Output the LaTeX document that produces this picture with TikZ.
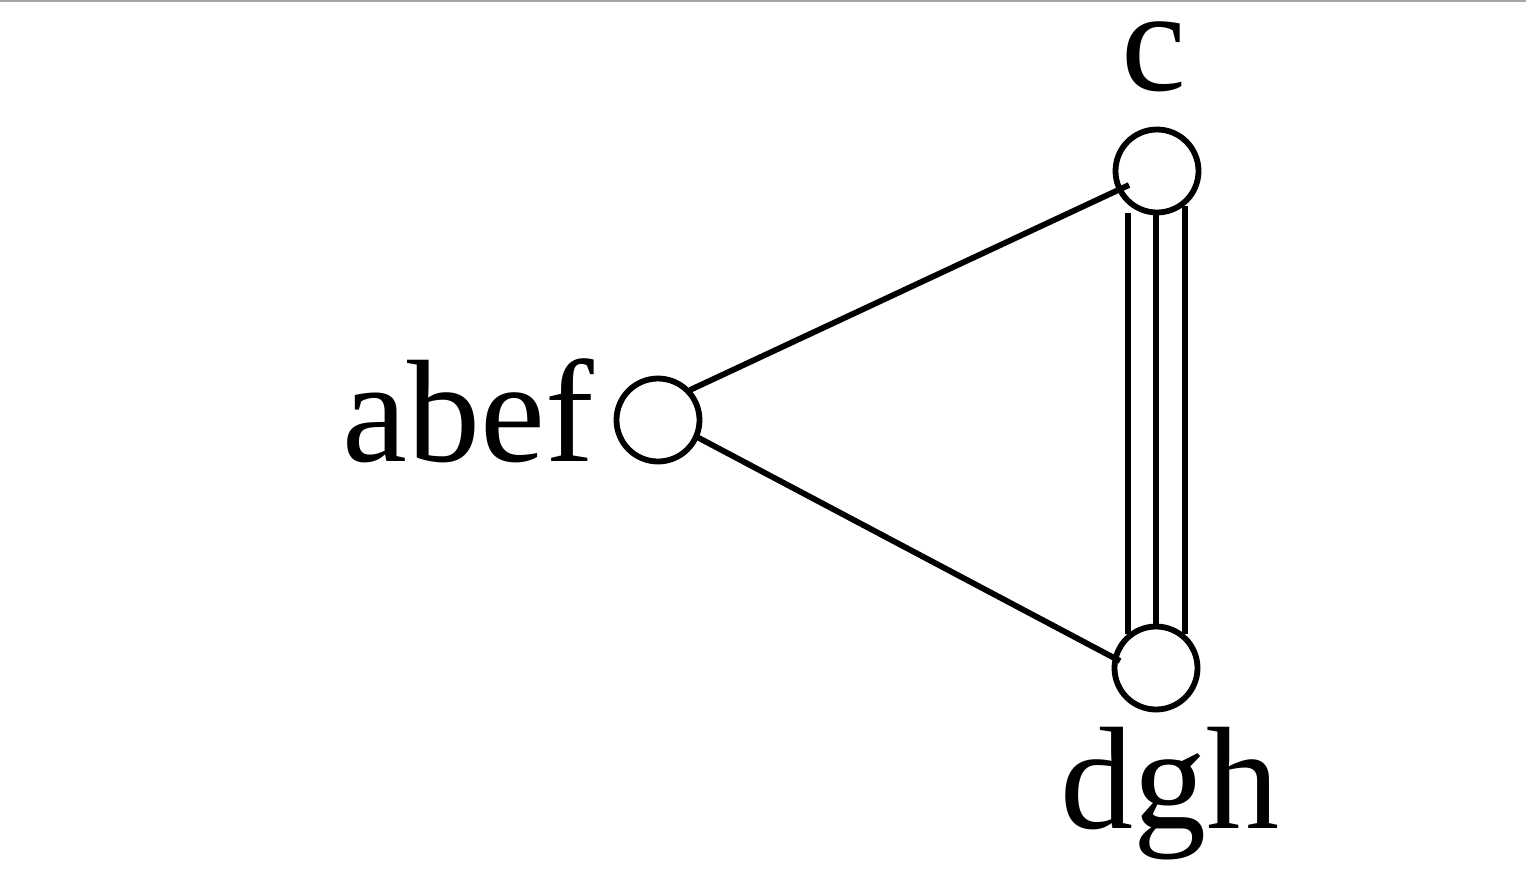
\documentclass[tikz,border=0pt]{standalone}
\usepackage{fontspec}
\setmainfont{Liberation Serif}
\begin{document}
\begin{tikzpicture}[x=0.5pt,y=-0.5pt,
  vtx/.style={circle,draw,line width=2.9pt,minimum size=41.5pt,inner sep=0pt},
  edge/.style={line width=2.9pt},
  lbl/.style={font=\fontsize{73}{80}\selectfont,inner sep=0pt,anchor=base}]
\useasboundingbox (0,0) rectangle (1526,874);
\fill[white] (0,0) rectangle (1526,874);
\draw[gray!70,line width=1pt] (0,0.5) -- (1526,0.5);
\coordinate (e1a) at (690,390);
\coordinate (e1b) at (1129,185);
\coordinate (e2a) at (697,437);
\coordinate (e2b) at (1120,661);
\coordinate (l1a) at (1128,213);
\coordinate (l1b) at (1128,634);
\coordinate (l2a) at (1156,212);
\coordinate (l2b) at (1156,626);
\coordinate (l3a) at (1185,206);
\coordinate (l3b) at (1185,634);
\draw[edge] (e1a) -- (e1b);
\draw[edge] (e2a) -- (e2b);
\draw[edge] (l1a) -- (l1b);
\draw[edge] (l2a) -- (l2b);
\draw[edge] (l3a) -- (l3b);
\node[vtx] (abef) at (658,420) {};
\node[vtx] (c) at (1157,171) {};
\node[vtx] (dgh) at (1156,668) {};
\node[lbl] (tabef) at (468,461) {abef};
\node[lbl] (tc) at (1154,90) {c};
\node[lbl] (tdgh) at (1170,828) {dgh};
\end{tikzpicture}
\end{document}
